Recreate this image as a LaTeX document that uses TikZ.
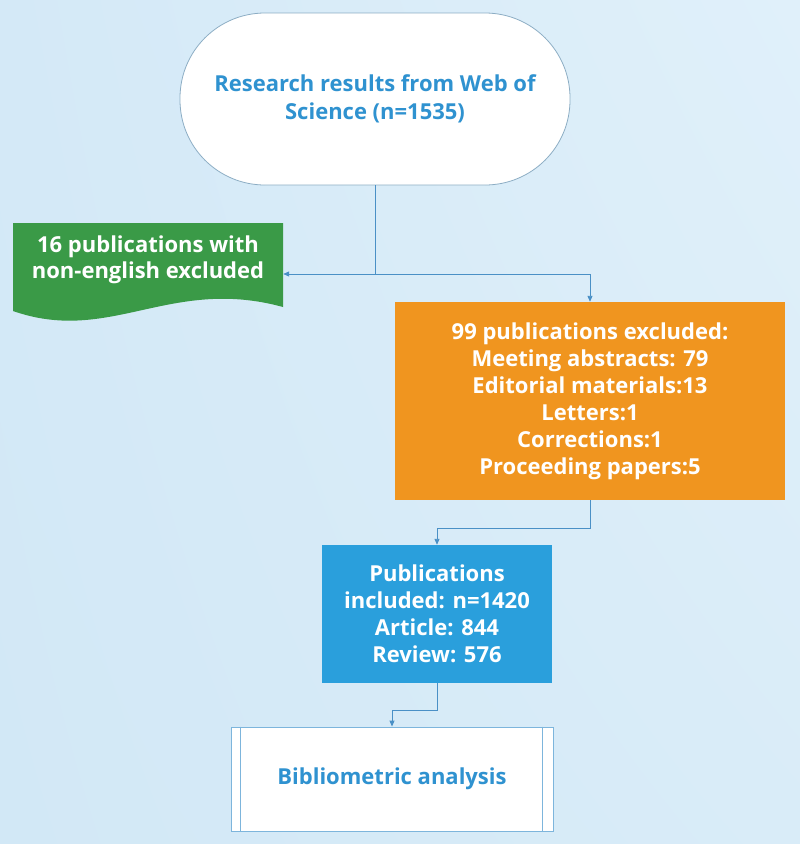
\documentclass[tikz,border=0pt]{standalone}
\usepackage{fontspec}
\setmainfont{Open Sans}
\usetikzlibrary{arrows.meta,positioning,calc,shadings}
\definecolor{bgA}{HTML}{D4E9F7}
\definecolor{bgB}{HTML}{E0F0FA}
\definecolor{bgC}{HTML}{D2E8F6}
\definecolor{bgD}{HTML}{D9ECF8}
\definecolor{txtblue}{HTML}{2F92D0}
\definecolor{linec}{HTML}{4A90C6}
\definecolor{greenc}{HTML}{3A9A47}
\definecolor{orangec}{HTML}{F0951F}
\definecolor{bluec}{HTML}{2A9FDC}
\definecolor{topborder}{HTML}{8CADC4}
\definecolor{finborder}{HTML}{7DB5DC}
\tikzset{
  base/.style={inner sep=0pt, align=center, font=\fontsize{22}{27}\selectfont\bfseries},
  fillbox/.style={base, rectangle, text=white},
  arr/.style={draw=linec, line width=0.9pt, -{Triangle[length=6pt,width=5pt]}},
  conn/.style={draw=linec, line width=0.9pt},
}
\begin{document}
\begin{tikzpicture}[x=1pt,y=-1pt]
\useasboundingbox (0,0) rectangle (800,844);
\shade[upper left=bgA, upper right=bgB, lower left=bgC, lower right=bgD] (0,0) rectangle (800,844);

% top terminal
\node[base, draw=topborder, line width=0.8pt, fill=white, rounded corners=85pt,
      minimum width=390pt, minimum height=172pt, text=txtblue,
      font=\fontsize{22}{28}\selectfont\bfseries] (top) at (375,99)
      {Research results from Web of\\Science (n=1535)};

% green document shape
\fill[greenc] (13,223) -- (283,223) -- (283,307)
   .. controls (170,276) and (110,345) .. (13,311) -- cycle;
\node[fillbox, minimum width=270pt, minimum height=60pt,
      font=\fontsize{22}{26}\selectfont\bfseries] (g) at (148,260)
      {16 publications with\\non-english excluded};

% orange box
\node[fillbox, fill=orangec, minimum width=390pt, minimum height=198pt] (o) at (590,401)
      {99 publications excluded:\\Meeting abstracts: 79\\Editorial materials:13\\Letters:1\\Corrections:1\\Proceeding papers:5};

% blue box
\node[fillbox, fill=bluec, minimum width=230pt, minimum height=138pt] (b) at (437,614)
      {Publications\\included: n=1420\\Article: 844\\Review: 576};

% final box
\node[base, draw=finborder, line width=0.9pt, fill=white, text=txtblue,
      minimum width=322pt, minimum height=104pt] (f) at (392,779)
      {Bibliometric analysis};
\draw[draw=finborder, line width=0.9pt] ([xshift=10pt]f.north west) -- ([xshift=10pt]f.south west);
\draw[draw=finborder, line width=0.9pt] ([xshift=-11pt]f.north east) -- ([xshift=-11pt]f.south east);

% connectors
\coordinate (j) at (375,274);
\draw[conn] (top.south) -- (j);
\draw[arr] (j) -- (j -| g.east);
\draw[arr] (j) -| (o.north);
\draw[arr] (o.south) -- ++(0,28) -| (b.north);
\draw[arr] (b.south) -- ++(0,27) -| (f.north);
\end{tikzpicture}
\end{document}
